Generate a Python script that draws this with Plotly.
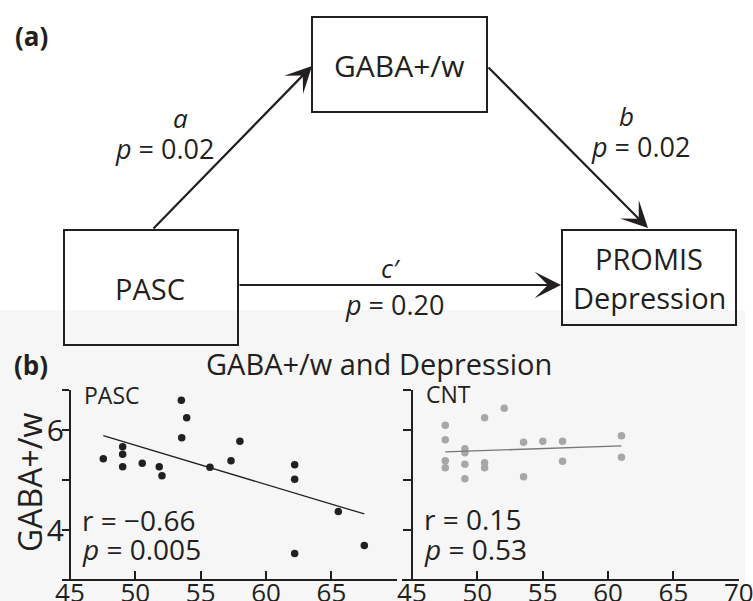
import numpy as np
import plotly.graph_objects as go

W, H = 753, 601
FONT = "Open Sans"
INK = "#231f20"
GREY_PT = "#a7a7a7"
GREY_LN = "#777777"
NB = "\u00a0"

# ---------------- data (panel b) ----------------
pasc_x = [47.55, 49.03, 49.03, 49.03, 50.53, 51.83, 52.04, 53.52, 53.93, 53.55,
          55.71, 57.32, 58.00, 62.19, 62.19, 62.19, 65.53, 67.52]
pasc_y = [5.43, 5.67, 5.52, 5.27, 5.34, 5.27, 5.09, 6.60, 6.25, 5.85,
          5.26, 5.39, 5.78, 5.31, 5.02, 3.53, 4.37, 3.69]
cnt_x = [47.55, 47.55, 47.55, 47.55, 49.05, 49.05, 49.05, 49.05, 50.56, 50.56,
         50.56, 52.06, 53.54, 53.54, 55.01, 56.52, 56.52, 61.03, 61.03]
cnt_y = [6.10, 5.81, 5.39, 5.25, 5.63, 5.55, 5.32, 5.03, 6.25, 5.35,
         5.25, 6.44, 5.76, 5.07, 5.78, 5.78, 5.38, 5.89, 5.46]
x_ticks = [45, 50, 55, 60, 65, 70]
left_x_labels = ["45", "50", "55", "60", "65", ""]
right_x_labels = ["45", "50", "55", "60", "65", "70"]
y_ticks = [4, 5, 6, 6.8]
left_y_labels = ["4", "", "6", ""]
right_y_labels = ["", "", "", ""]
pasc_stats = ["r" + NB + "=" + NB + "\u22120.66", "<i>p</i>" + NB + "=" + NB + "0.005"]
cnt_stats = ["r" + NB + "=" + NB + "0.15", "<i>p</i>" + NB + "=" + NB + "0.53"]

# ---------------- diagram text (panel a) ----------------
path_a = ["<i>a</i>", "<i>p</i>" + NB + "=" + NB + "0.02"]
path_b = ["<i>b</i>", "<i>p</i>" + NB + "=" + NB + "0.02"]
path_c = ["<i>c\u2032</i>", "<i>p</i>" + NB + "=" + NB + "0.20"]


def px(x):
    return x / W


def py(y):
    return 1 - y / H


fig = go.Figure()

# scatter + fits
for xs, ys, col, lcol, xa, ya in [
    (pasc_x, pasc_y, INK, INK, "x", "y"),
    (cnt_x, cnt_y, GREY_PT, GREY_LN, "x2", "y2"),
]:
    fig.add_trace(go.Scatter(x=xs, y=ys, mode="markers",
                             marker=dict(size=7.5, color=col),
                             xaxis=xa, yaxis=ya, showlegend=False,
                             cliponaxis=False, hoverinfo="skip"))
    k, b0 = np.polyfit(xs, ys, 1)
    fx = np.array([min(xs), max(xs)])
    fig.add_trace(go.Scatter(x=fx, y=k * fx + b0, mode="lines",
                             line=dict(color=lcol, width=1.3),
                             xaxis=xa, yaxis=ya, showlegend=False, hoverinfo="skip"))

shapes = []
# light grey band behind panel (b)
shapes.append(dict(type="rect", xref="paper", yref="paper",
                   x0=px(0), x1=px(745), y0=0, y1=py(310),
                   fillcolor="#f6f6f6", line=dict(width=0), layer="below"))
# boxes of the diagram
for (x0, y0, x1, y1) in [(312, 17, 487, 112), (64, 230, 238, 345), (562, 230, 736, 325)]:
    shapes.append(dict(type="rect", xref="paper", yref="paper",
                       x0=px(x0), x1=px(x1), y0=py(y1), y1=py(y0),
                       line=dict(color=INK, width=2), fillcolor="rgba(0,0,0,0)"))

ann = []


def txt(x, y, s, size, xanchor="center", bold=False, angle=0, color=INK):
    ann.append(dict(x=px(x), y=py(y), xref="paper", yref="paper", text=("<b>%s</b>" % s) if bold else s,
                    showarrow=False, xanchor=xanchor, yanchor="middle", textangle=angle,
                    font=dict(family=FONT, size=size, color=color)))


def arrow(tail, tip):
    ann.append(dict(x=px(tip[0]), y=py(tip[1]), xref="paper", yref="paper",
                    ax=tail[0] - tip[0], ay=tail[1] - tip[1], text="",
                    showarrow=True, arrowhead=3, arrowsize=2.0, arrowwidth=2.2,
                    arrowcolor=INK, standoff=0))


arrow((152, 230), (312, 66))
arrow((487, 66), (648, 228))
arrow((238, 285), (561, 285))

txt(32, 36, "(a)", 26, bold=True)
txt(399, 65, "GABA+/w", 30)
txt(150, 288, "PASC", 29)
txt(649, 258, "PROMIS", 29)
txt(649, 297, "Depression", 29)
txt(180, 118, path_a[0], 26)
txt(164, 148, path_a[1], 27)
txt(626, 116, path_b[0], 26)
txt(640, 146, path_b[1], 27)
txt(391, 268, path_c[0], 26)
txt(394, 304, path_c[1], 27)

txt(31, 365, "(b)", 26, bold=True)
txt(379, 363, "GABA+/w and Depression", 29)
txt(30, 483, "GABA+/w", 32, angle=-90)
txt(82, 395, "PASC", 23, xanchor="left")
txt(424, 394, "CNT", 23, xanchor="left")
txt(80, 520, pasc_stats[0], 28, xanchor="left")
txt(80, 549, pasc_stats[1], 28, xanchor="left")
txt(422, 519, cnt_stats[0], 28, xanchor="left")
txt(422, 549, cnt_stats[1], 28, xanchor="left")

axis_common = dict(showline=True, linecolor=INK, linewidth=2, showgrid=False,
                   zeroline=False, tickcolor=INK, tickwidth=2, automargin=False,
                   ticklabeloverflow="allow")

fig.update_layout(
    template="none",
    width=W, height=H, margin=dict(l=0, r=0, t=0, b=0, pad=0, autoexpand=False),
    paper_bgcolor="white", plot_bgcolor="rgba(0,0,0,0)",
    font=dict(family=FONT, color=INK),
    shapes=shapes, annotations=ann, showlegend=False, hovermode=False,
    xaxis=dict(domain=[px(62), px(397)], range=[44.39, 70.02], anchor="y",
               ticks="inside", ticklen=8, tickvals=x_ticks, ticktext=left_x_labels,
               tickfont=dict(size=26, family=FONT, color=INK),
               ticklabelstandoff=-10, **axis_common),
    yaxis=dict(domain=[py(579), py(390)], range=[3.02, 6.805], anchor="free",
               position=px(70), ticks="outside", ticklen=7, tickvals=y_ticks,
               ticktext=left_y_labels, tickfont=dict(size=30, family=FONT, color=INK),
               ticklabelstandoff=-8, **axis_common),
    xaxis2=dict(domain=[px(402), px(739)], range=[44.24, 70.02], anchor="y2",
                ticks="inside", ticklen=8, tickvals=x_ticks, ticktext=right_x_labels,
                tickfont=dict(size=26, family=FONT, color=INK),
                ticklabelstandoff=-10, **axis_common),
    yaxis2=dict(domain=[py(579), py(390)], range=[3.02, 6.805], anchor="free",
                position=px(412), ticks="outside", ticklen=8, tickvals=y_ticks,
                ticktext=right_y_labels, **axis_common),
)

fig.write_html("out.html", config={"displayModeBar": False, "staticPlot": True},
               post_script="document.body.style.margin='0px';document.body.style.overflow='hidden';")
